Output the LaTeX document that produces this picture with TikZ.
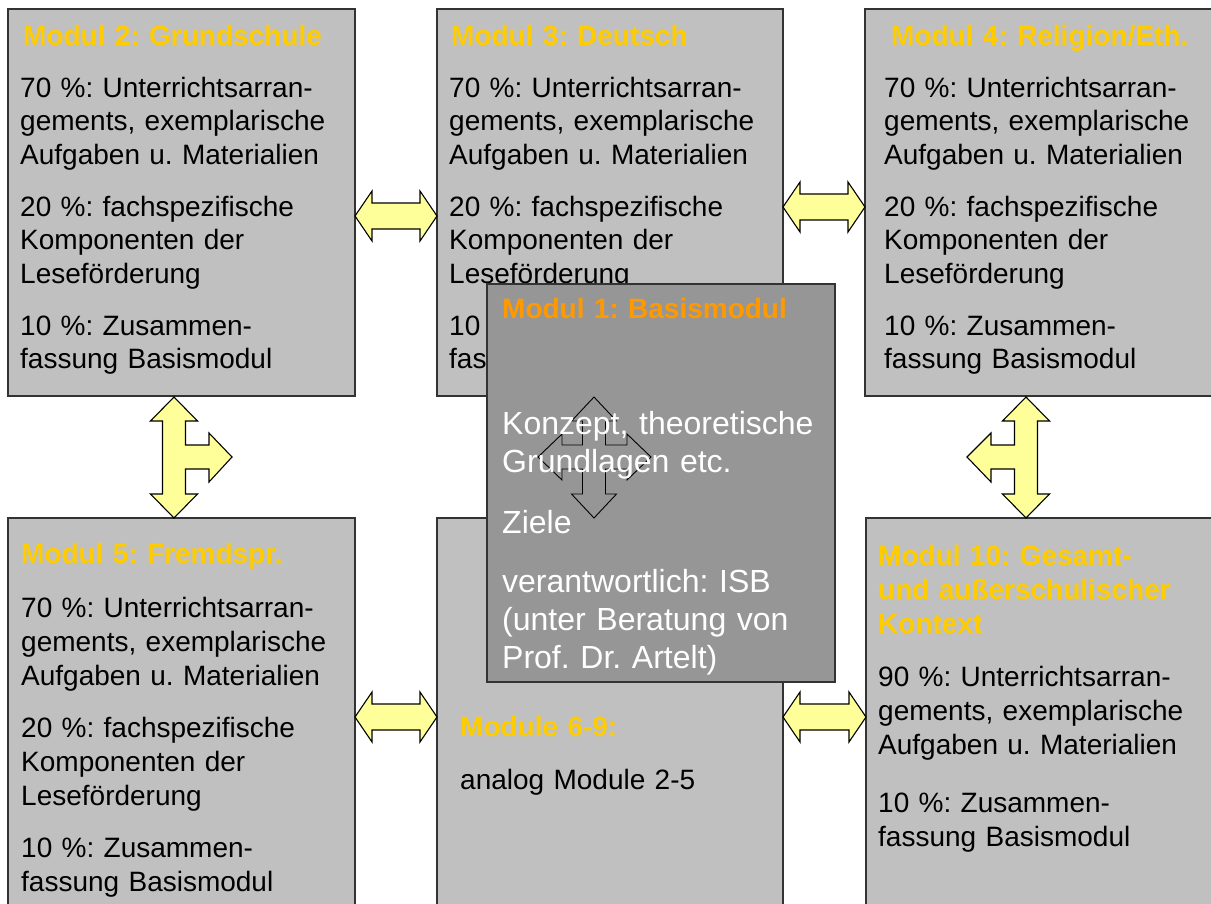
\documentclass[tikz,border=0pt]{standalone}
\usepackage{fontspec}
\setmainfont{Liberation Sans}
\frenchspacing
\definecolor{boxgray}{HTML}{C0C0C0}
\definecolor{centergray}{HTML}{969696}
\definecolor{titlegold}{HTML}{FFCC00}
\definecolor{titleorange}{HTML}{FF9900}
\definecolor{arrowyellow}{HTML}{FFFF99}
\newcommand\modulbody[1]{70 \%: Unterrichtsarran-\\ gements, exemplarische\\ Aufgaben u. Materialien\\[#1] 20 \%: fachspezifische\\ Komponenten der\\ Leseförderung\\[#1] 10 \%: Zusammen-\\ fassung Basismodul}
\newcommand\HDArr[3]{\draw[yarrow] (#1,#3) -- ({#1+17},{#3-25}) -- ({#1+17},{#3-13}) -- ({#2-17},{#3-13}) -- ({#2-17},{#3-25}) -- (#2,#3) -- ({#2-17},{#3+25}) -- ({#2-17},{#3+13}) -- ({#1+17},{#3+13}) -- ({#1+17},{#3+25}) -- cycle;}
\begin{document}
\begin{tikzpicture}[x=1pt,y=-1pt,
  box/.style={draw=black!80, line width=1.3pt, fill=boxgray, anchor=north west, inner sep=0pt, outer sep=0pt},
  cbox/.style={box, fill=centergray},
  body/.style={anchor=base west, inner sep=0pt, align=left, text width=380pt, font=\fontsize{28}{33.5}\selectfont},
  ttl/.style={anchor=base west, inner sep=0pt, align=left, text width=380pt, text=titlegold, font=\fontsize{28}{34}\selectfont\bfseries},
  yarrow/.style={draw=black, line width=1.1pt, fill=arrowyellow, line join=miter},
  qarrow/.style={draw=black, line width=0.9pt, line join=miter}]
\useasboundingbox (0,0) rectangle (1211,903);
\clip (0,0) rectangle (1211,903);
\fill[white] (0,0) rectangle (1211,903);

% top row
\node[box, minimum width=347pt, minimum height=387pt] (m2) at (8,9) {};
\node[ttl] (m2t) at (23,45) {Modul 2: Grundschule};
\node[body] (m2b) at (20,97) {\modulbody{18.5pt}};

\node[box, minimum width=346pt, minimum height=387pt] (m3) at (437,9) {};
\node[ttl] (m3t) at (451,45) {Modul 3: Deutsch};
\node[body] (m3b) at (449,97) {\modulbody{18.5pt}};

\node[box, minimum width=347pt, minimum height=387pt] (m4) at (865,9) {};
\node[ttl] (m4t) at (891,45) {Modul 4: Religion/Eth.};
\node[body] (m4b) at (884,97) {\modulbody{18.5pt}};

% bottom row
\node[box, minimum width=347pt, minimum height=400pt] (m5) at (8,518) {};
\node[ttl] (m5t) at (21,563) {Modul 5: Fremdspr.};
\node[body, font=\fontsize{28}{34}\selectfont] (m5b) at (21,617) {\modulbody{18pt}};

\node[box, minimum width=346pt, minimum height=400pt] (m69) at (437,518) {};
\node[ttl] (m69t) at (460,736) {Module 6-9:};
\node[body] (m69b) at (460,789) {analog Module 2-5};

\node[box, minimum width=346pt, minimum height=400pt] (m10) at (866,518) {};
\node[ttl] (m10t) at (878,565) {Modul 10: Gesamt-\\ und außerschulischer\\ Kontext};
\node[body, font=\fontsize{28}{34}\selectfont] (m10b) at (878,686) {90 \%: Unterrichtsarran-\\ gements, exemplarische\\ Aufgaben u. Materialien\\[24pt] 10 \%: Zusammen-\\ fassung Basismodul};

% horizontal double arrows
\HDArr{355}{437}{216}
\HDArr{783}{865}{207}
\HDArr{355}{437}{717}
\HDArr{783}{866}{717}

% left T arrow
\draw[yarrow] (174,397) -- (197.5,421) -- (185.5,421) -- (185.5,445) -- (209,445) -- (209,433) -- (232,457) -- (209,482) -- (209,469) -- (185.5,469) -- (185.5,494) -- (197.5,494) -- (174,518) -- (150.5,494) -- (162.5,494) -- (162.5,421) -- (150.5,421) -- cycle;
% right T arrow
\draw[yarrow] (1026,397) -- (1049.5,421) -- (1037.5,421) -- (1037.5,494) -- (1049.5,494) -- (1026,518) -- (1002.5,494) -- (1014.5,494) -- (1014.5,469) -- (991,469) -- (991,482) -- (967,457) -- (991,433) -- (991,445) -- (1014.5,445) -- (1014.5,421) -- (1002.5,421) -- cycle;

% central box
\node[cbox, minimum width=348pt, minimum height=398pt] (m1) at (487,284) {};
\draw[qarrow] (594,397) -- (616.5,421) -- (605.5,421) -- (605.5,445) -- (627,445) -- (627,434) -- (651,457) -- (627,480) -- (627,469) -- (605.5,469) -- (605.5,494) -- (616.5,494) -- (594,518) -- (571.5,494) -- (582.5,494) -- (582.5,469) -- (562,469) -- (562,480) -- (538,457) -- (562,434) -- (562,445) -- (582.5,445) -- (582.5,421) -- (571.5,421) -- cycle;
\node[ttl, text=titleorange] (m1t) at (502,318) {Modul 1: Basismodul};
\node[body, text=white, font=\fontsize{32}{38}\selectfont] (m1b) at (502,434) {Konzept, theoretische\\ Grundlagen etc.\\[23pt] Ziele\\[21pt] verantwortlich: ISB\\ (unter Beratung von\\ Prof. Dr. Artelt)};
\end{tikzpicture}
\end{document}
